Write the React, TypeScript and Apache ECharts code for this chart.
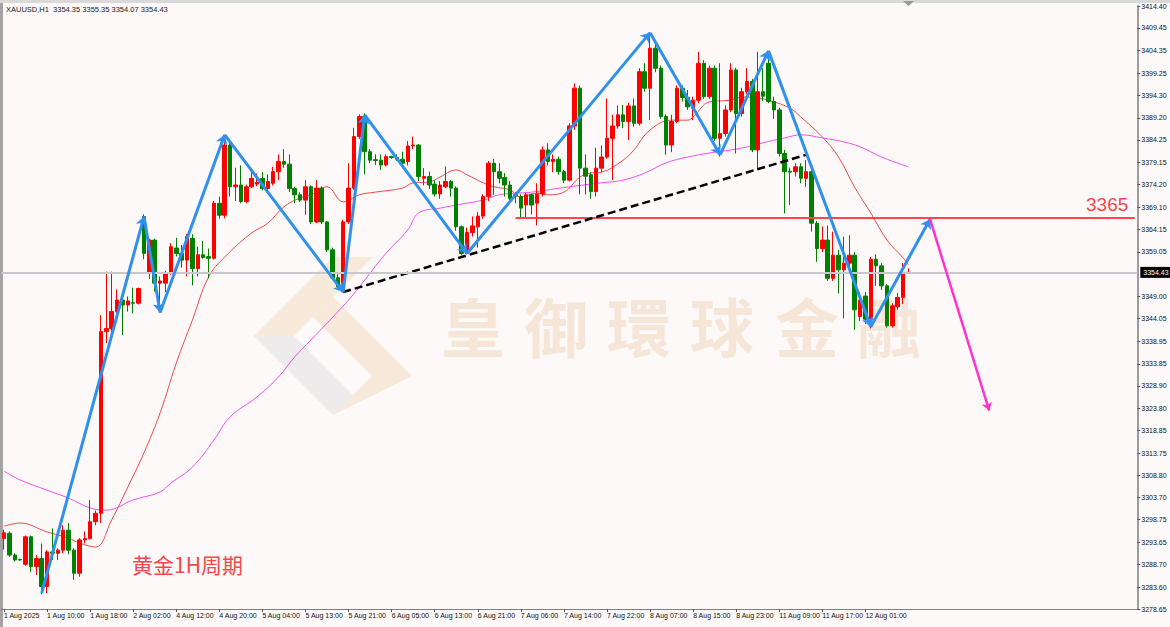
import React, { useEffect, useRef } from 'react';
import * as echarts from 'echarts';

const headerText = 'XAUUSD,H1  3354.35 3355.35 3354.07 3354.43';

const xTickLabels = ['1 Aug 2025', '1 Aug 10:00', '1 Aug 18:00', '2 Aug 02:00', '4 Aug 12:00', '4 Aug 20:00', '5 Aug 04:00', '5 Aug 13:00', '5 Aug 21:00', '6 Aug 05:00', '6 Aug 13:00', '6 Aug 21:00', '7 Aug 06:00', '7 Aug 14:00', '7 Aug 22:00', '8 Aug 07:00', '8 Aug 15:00', '8 Aug 23:00', '11 Aug 09:00', '11 Aug 17:00', '12 Aug 01:00'];
const barsPerLabel = 8;
const totalSlots = 211;

const yTickLabels = [3414.40, 3409.45, 3404.35, 3399.25, 3394.30, 3389.20, 3384.25, 3379.15, 3374.20, 3369.10, 3364.15, 3359.05, 3349.00, 3344.05, 3338.95, 3333.85, 3328.90, 3323.80, 3318.85, 3313.75, 3308.80, 3303.70, 3298.75, 3293.65, 3288.70, 3283.60, 3278.65];
const yMin = 3278.65;
const yMax = 3414.40;
const lastPrice = 3354.43;

const opens = [3294.5,3295.7,3290.8,3289.8,3288.7,3294.9,3288.2,3290.0,3283.7,3291.5,3291.2,3291.9,3296.4,3291.9,3286.7,3294.2,3294.5,3298.3,3300.2,3341.1,3341.8,3345.6,3348.2,3347.1,3347.6,3347.5,3367.0,3354.2,3361.7,3352.0,3352.0,3354.2,3359.9,3358.7,3357.2,3362.1,3355.3,3358.4,3358.0,3357.6,3370.0,3367.3,3383.1,3373.7,3374.1,3370.4,3373.7,3374.3,3375.6,3373.3,3374.5,3377.1,3379.4,3378.8,3373.3,3371.9,3370.7,3373.7,3365.8,3373.4,3365.8,3359.5,3353.2,3351.2,3365.8,3373.4,3385.0,3389.5,3381.6,3379.8,3379.7,3378.6,3380.5,3380.3,3379.9,3379.4,3382.9,3383.1,3375.6,3376.0,3374.3,3372.1,3373.7,3374.9,3373.4,3364.7,3358.7,3363.4,3364.7,3367.1,3371.5,3379.0,3377.1,3375.8,3374.1,3371.9,3371.5,3369.6,3371.9,3370.0,3372.1,3382.0,3379.4,3379.9,3377.1,3375.2,3387.4,3395.9,3377.9,3376.4,3372.6,3377.9,3380.4,3384.6,3387.4,3389.9,3388.4,3391.9,3388.0,3399.6,3395.9,3404.9,3400.4,3389.5,3383.1,3388.4,3395.9,3393.8,3391.4,3393.2,3401.5,3394.0,3400.4,3384.6,3385.7,3391.0,3400.0,3390.2,3395.1,3397.4,3382.0,3395.1,3401.5,3392.9,3391.0,3381.2,3377.2,3377.1,3378.2,3375.6,3377.1,3365.5,3359.8,3361.7,3353.1,3358.3,3355.0,3356.5,3358.3,3344.5,3349.1,3343.9,3357.4,3355.9,3351.4,3342.4,3346.7,3348.8,3354.35];
const closes = [3295.8,3290.8,3289.7,3289.7,3294.9,3288.2,3290.0,3283.7,3291.5,3291.2,3291.9,3296.4,3291.9,3286.7,3294.2,3294.5,3298.3,3300.2,3341.1,3341.8,3345.6,3348.2,3347.1,3348.0,3347.5,3350.8,3358.7,3361.7,3352.0,3352.5,3354.2,3360.2,3358.7,3357.2,3362.5,3355.3,3358.4,3357.8,3357.6,3370.0,3367.3,3383.1,3373.7,3374.1,3370.4,3373.7,3375.6,3374.7,3373.3,3374.9,3377.1,3379.4,3378.8,3373.3,3371.9,3370.7,3373.7,3365.8,3373.4,3365.8,3359.5,3353.2,3351.2,3365.8,3373.4,3385.0,3389.5,3381.6,3379.7,3379.6,3378.6,3380.5,3380.3,3379.9,3379.0,3382.9,3383.1,3376.0,3376.0,3374.1,3372.1,3374.1,3374.9,3373.4,3364.7,3358.7,3363.4,3364.9,3367.1,3371.5,3379.0,3377.1,3375.6,3374.1,3371.1,3371.6,3368.9,3371.9,3369.6,3372.1,3382.0,3379.4,3379.9,3377.1,3375.2,3387.4,3395.9,3377.9,3376.1,3372.6,3377.9,3380.4,3384.6,3387.4,3389.9,3388.4,3391.9,3388.0,3399.6,3395.9,3404.9,3400.4,3389.5,3383.1,3388.4,3395.9,3393.8,3391.7,3393.2,3401.5,3394.0,3400.4,3384.6,3385.7,3391.0,3400.0,3390.2,3395.1,3397.4,3382.0,3395.1,3394.1,3392.9,3391.0,3381.2,3377.1,3377.0,3378.2,3375.6,3377.1,3365.5,3359.8,3361.7,3353.1,3358.3,3355.0,3356.5,3358.3,3346.0,3348.2,3343.9,3357.4,3355.9,3351.4,3342.4,3346.9,3348.8,3354.2,3354.43];
const lows = [3292.0,3290.4,3289.3,3289.5,3288.4,3287.0,3286.3,3282.0,3282.2,3289.7,3289.7,3291.2,3291.0,3285.2,3285.9,3293.4,3294.3,3297.5,3298.0,3338.5,3341.0,3345.0,3340.3,3345.6,3345.2,3347.2,3357.4,3353.0,3350.1,3345.4,3350.0,3353.9,3358.0,3355.5,3353.5,3351.5,3353.5,3357.5,3353.1,3357.3,3366.5,3366.6,3371.5,3370.5,3370.0,3370.0,3373.4,3373.8,3372.9,3373.0,3374.0,3375.2,3378.0,3372.5,3370.0,3370.3,3367.4,3365.3,3365.5,3365.3,3359.0,3352.8,3350.5,3350.0,3365.3,3373.0,3384.5,3376.5,3379.0,3378.6,3377.5,3378.3,3380.0,3379.5,3377.9,3378.5,3382.2,3375.0,3374.0,3373.2,3371.5,3371.0,3373.4,3371.5,3363.8,3358.3,3358.5,3362.5,3360.0,3366.5,3370.5,3371.9,3374.5,3371.5,3370.0,3370.0,3366.8,3366.8,3367.5,3365.0,3371.5,3378.5,3377.0,3376.4,3374.5,3374.9,3386.5,3372.0,3372.0,3371.0,3371.5,3377.0,3380.0,3375.2,3386.8,3386.9,3384.2,3387.2,3387.5,3395.1,3388.7,3399.5,3389.0,3380.9,3381.5,3388.0,3392.9,3391.0,3388.7,3392.5,3393.5,3393.5,3384.0,3380.5,3385.0,3390.5,3381.2,3389.5,3394.5,3381.5,3377.5,3393.0,3392.5,3389.0,3380.5,3367.7,3369.6,3376.0,3374.5,3373.7,3363.6,3356.8,3359.0,3352.5,3352.5,3349.7,3344.1,3354.5,3341.5,3343.5,3342.8,3341.8,3351.4,3350.5,3342.0,3342.0,3346.0,3347.3,3354.07];
const highs = [3296.5,3296.1,3291.2,3290.0,3295.2,3295.2,3290.8,3293.4,3291.9,3296.8,3292.3,3297.5,3298.0,3292.3,3294.6,3296.1,3303.2,3300.8,3344.8,3354.6,3354.6,3350.6,3349.8,3349.0,3351.0,3351.0,3367.5,3362.0,3362.0,3353.5,3354.8,3361.0,3362.2,3360.6,3363.1,3363.0,3360.2,3361.5,3359.8,3370.5,3371.5,3385.4,3384.5,3378.0,3378.5,3374.2,3377.0,3376.7,3377.0,3376.5,3378.2,3381.0,3382.2,3381.0,3373.7,3372.5,3375.2,3374.0,3375.2,3373.8,3366.0,3360.0,3354.0,3366.3,3379.0,3387.0,3390.0,3390.2,3382.2,3381.0,3381.0,3381.0,3380.7,3381.0,3381.6,3384.0,3385.0,3383.3,3377.9,3377.1,3375.2,3375.0,3378.3,3375.2,3373.8,3365.0,3364.5,3367.0,3368.0,3372.0,3379.5,3380.0,3379.0,3376.8,3375.0,3372.5,3372.0,3372.3,3372.2,3374.5,3382.8,3383.5,3381.0,3380.5,3377.5,3388.0,3397.0,3396.5,3381.0,3377.0,3382.5,3383.0,3393.6,3389.9,3392.0,3392.1,3392.6,3393.6,3400.4,3401.5,3408.4,3406.5,3401.0,3390.0,3389.9,3396.5,3396.5,3395.5,3394.0,3404.1,3402.2,3401.0,3401.0,3401.5,3392.0,3401.5,3400.5,3396.0,3400.4,3398.0,3404.1,3400.4,3404.3,3394.0,3391.5,3382.0,3378.0,3379.0,3379.0,3379.7,3377.5,3366.0,3364.8,3365.0,3363.6,3359.5,3362.5,3362.8,3359.0,3350.0,3350.0,3357.9,3358.5,3356.5,3351.8,3347.5,3349.8,3356.5,3355.35];

const maFast = [[0,3297.3],[3,3298.0],[8,3296.0],[12,3294.6],[14,3293.5],[17,3292.6],[20,3298.7],[23,3306.1],[26,3313.8],[29,3322.8],[32,3334.0],[35,3343.7],[38,3353.4],[41,3357.9],[46,3363.3],[49,3365.5],[52,3369.2],[55,3371.2],[57,3371.9],[60,3373.7],[63,3370.3],[66,3371.9],[69,3372.5],[74,3373.4],[76,3374.6],[79,3374.8],[81,3375.9],[84,3377.5],[86,3376.4],[89,3374.6],[91,3373.7],[94,3373.0],[96,3371.4],[99,3372.3],[101,3371.9],[104,3372.5],[107,3375.9],[109,3376.8],[111,3377.0],[115,3379.7],[117,3382.0],[120,3386.5],[124,3388.7],[127,3388.7],[128,3389.4],[131,3392.8],[135,3393.2],[137,3393.9],[140,3393.7],[143,3392.8],[146,3391.4],[148,3389.4],[152,3384.9],[155,3380.4],[158,3373.6],[161,3367.8],[164,3361.7],[167,3357.7],[168,3356.1]];
const maSlow = [[0,3309.7],[3,3307.7],[8,3305.4],[12,3303.6],[16,3301.4],[19,3300.9],[24,3303.2],[29,3305.0],[31,3307.0],[35,3310.6],[39,3316.7],[42,3321.9],[47,3326.4],[51,3330.9],[54,3335.4],[57,3339.2],[64,3348.2],[67,3352.7],[71,3358.8],[75,3364.0],[77,3367.8],[81,3368.9],[85,3369.8],[89,3370.7],[92,3371.9],[98,3372.5],[105,3373.7],[111,3374.6],[115,3375.2],[119,3376.8],[123,3379.1],[127,3380.4],[131,3381.3],[137,3382.4],[141,3383.6],[145,3384.7],[148,3385.4],[152,3384.7],[156,3383.8],[159,3382.7],[163,3380.4],[167,3378.6],[168,3378.2]];

const zigzagIdx = [7, 26, 29, 41, 63, 67, 86, 120, 133, 142, 161, 172];
const zigzagVal = [3282.2, 3367.0, 3345.4, 3385.4, 3350.0, 3389.9, 3358.7, 3408.4, 3380.9, 3404.3, 3342.2, 3366.4];
const trendIdx = [63, 149];
const trendVal = [3350.0, 3380.9];
const resistLevel = 3366.7;
const resistIdx = [95, 210];
const resistText = '3365';
const forecastIdx = [172, 183];
const forecastVal = [3366.4, 3323.3];
const noteText = '黄金1H周期';
const watermarkChars = ['皇', '御', '環', '球', '金', '融'];

export default function App() {
  const ref = useRef<HTMLDivElement>(null);
  useEffect(() => {
    if (!ref.current) return;
    const chart = echarts.init(ref.current, null, { renderer: 'svg' });
    const categories = Array.from({ length: totalSlots }, (_, i) =>
      i % barsPerLabel === 0 && i / barsPerLabel < xTickLabels.length ? xTickLabels[i / barsPerLabel] : ''
    );
    const showTick = (i: number) => i % barsPerLabel === 0 && i / barsPerLabel < xTickLabels.length;
    const candles = opens.map((o, i) => [o, closes[i], lows[i], highs[i]]);
    const zigSegs = zigzagIdx.slice(1).map((x, k) => ({
      coords: [[zigzagIdx[k], zigzagVal[k]], [x, zigzagVal[k + 1]]],
    }));
    const beige = 'rgba(242,220,188,0.5)';
    const grey = 'rgba(222,222,222,0.5)';
    const wmX = [441, 524, 607, 690, 775, 857];
    const graphics: any[] = [
      { type: 'rect', shape: { x: 0, y: 0, width: 3, height: 627 }, style: { fill: '#a3a3a3' }, z: 0 },
      { type: 'rect', shape: { x: 0, y: 0, width: 1170, height: 3 }, style: { fill: '#d9d9d9' }, z: 0 },
      { type: 'polygon', shape: { points: [[903, 1], [914, 1], [908.5, 6]] }, style: { fill: '#9a9a9a' }, z: 0 },
      // logo
      { type: 'polygon', shape: { points: [[254, 336], [333, 257], [373, 257], [294, 336]] }, style: { fill: beige }, z: 0 },
      { type: 'polygon', shape: { points: [[254, 336], [294, 336], [353, 395], [333, 415]] }, style: { fill: grey }, z: 0 },
      { type: 'polygon', shape: { points: [[333, 297], [412, 376], [372, 376], [313, 317]] }, style: { fill: beige }, z: 0 },
      { type: 'polygon', shape: { points: [[333, 415], [353, 395], [372, 376], [412, 376]] }, style: { fill: beige }, z: 0 },
      ...watermarkChars.map((ch, k) => ({
        type: 'text', left: wmX[k], top: 292, z: 0,
        style: { text: ch, fill: 'rgba(238,215,188,0.55)', font: 'bold 64px "Noto Sans CJK TC"' },
      })),
      { type: 'text', left: 6, top: 5, z: 5, style: { text: headerText, fill: '#222', font: '7.5px "Liberation Sans"' } },
      { type: 'text', left: 132, top: 553, z: 5, style: { text: noteText, fill: '#f24848', font: '21px "Noto Sans CJK SC"' } },
      { type: 'text', left: 1086, top: 195, z: 5, style: { text: resistText, fill: '#f24848', font: '19px "Liberation Sans"' } },
    ];

    chart.setOption({
      animation: false,
      backgroundColor: '#fdf9f8',
      grid: { left: 1.3, top: 6, width: 1136, height: 603 },
      xAxis: {
        type: 'category',
        data: categories,
        boundaryGap: true,
        axisLine: { lineStyle: { color: '#808080', width: 1 } },
        axisTick: { show: true, interval: (i: number) => showTick(i), alignWithLabel: true, length: 3, lineStyle: { color: '#555' } },
        axisLabel: {
          interval: (i: number) => showTick(i),
          align: 'left',
          fontSize: 7,
          fontFamily: 'Liberation Sans',
          color: '#111',
          margin: 3,
        },
        splitLine: { show: false },
      },
      yAxis: {
        type: 'value',
        position: 'right',
        min: yMin,
        max: yMax,
        scale: true,
        axisLine: { show: true, lineStyle: { color: '#9c9c9c', width: 2 } },
        axisTick: { show: true, customValues: yTickLabels, length: 3, lineStyle: { color: '#555' } },
        axisLabel: {
          customValues: yTickLabels,
          formatter: (v: number) => v.toFixed(2),
          fontSize: 7,
          fontFamily: 'Liberation Sans',
          color: '#111',
          margin: 4,
        },
        splitLine: { show: false },
      },
      graphic: graphics,
      series: [
        {
          type: 'candlestick',
          data: candles,
          barWidth: 4,
          itemStyle: { color: '#ff0000', color0: '#008000', borderColor: '#ff0000', borderColor0: '#008000', borderWidth: 1 },
          markLine: {
            silent: true,
            symbol: ['none', 'none'],
            lineStyle: { color: '#c8c8cc', width: 2, type: 'solid' },
            label: {
              show: true, position: 'end', formatter: lastPrice.toFixed(2), backgroundColor: '#000', color: '#fff',
              fontSize: 7, fontFamily: 'Liberation Sans', padding: [2, 3], distance: 3,
            },
            data: [{ yAxis: lastPrice }],
          },
          z: 3,
        },
        { type: 'line', data: maFast, symbol: 'none', smooth: 0.4, lineStyle: { color: '#f04a4a', width: 1 }, z: 2 },
        { type: 'line', data: maSlow, symbol: 'none', smooth: 0.4, lineStyle: { color: '#f050f0', width: 1 }, z: 2 },
        {
          type: 'line', data: resistIdx.map((x) => [x, resistLevel]), symbol: 'none',
          lineStyle: { color: '#ff4545', width: 2 }, z: 4,
        },
        {
          type: 'line', data: trendIdx.map((x, k) => [x, trendVal[k]]), symbol: 'none',
          lineStyle: { color: '#000', width: 2.5, type: [8, 4] }, z: 4,
        },
        {
          type: 'lines', coordinateSystem: 'cartesian2d', data: zigSegs,
          symbol: ['none', 'arrow'], symbolSize: 9,
          lineStyle: { color: '#2f90ee', width: 3, opacity: 1 }, z: 5,
        },
        {
          type: 'lines', coordinateSystem: 'cartesian2d',
          data: [{ coords: forecastIdx.map((x, k) => [x, forecastVal[k]]) }],
          symbol: ['none', 'arrow'], symbolSize: 8,
          lineStyle: { color: '#ff33cc', width: 2.5, opacity: 1 }, z: 5,
        },
      ],
    });
    return () => chart.dispose();
  }, []);
  return <div ref={ref} style={{ position: 'absolute', left: 0, top: 0, width: 1170, height: 627 }} />;
}
